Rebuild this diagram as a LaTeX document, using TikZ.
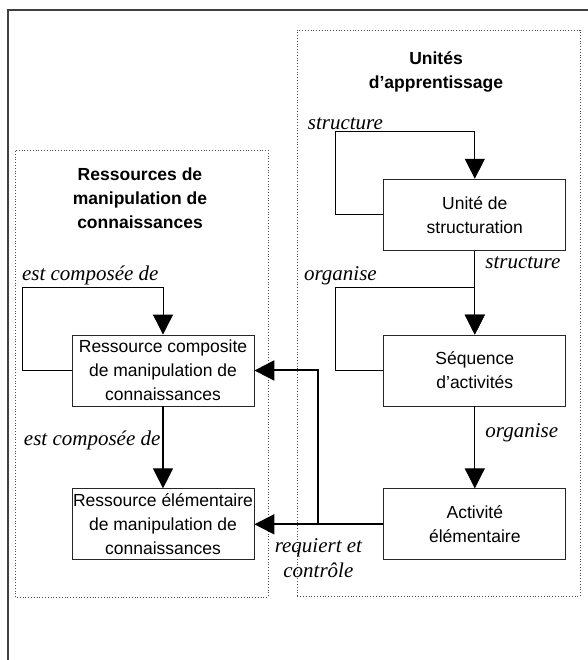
\documentclass[tikz,border=0pt]{standalone}
\usepackage{fontspec}
\setmainfont{Liberation Serif}
\newfontfamily\boxfont{Liberation Sans}
\usepackage{tikz}
\usetikzlibrary{arrows.meta, positioning}
\tikzstyle{resbox} = [rectangle, draw=black!85, line width=0.8pt, minimum width=182pt, minimum height=71pt, inner sep=1pt, align=center, font=\boxfont\fontsize{17.5}{24}\selectfont]
\tikzstyle{title} = [align=center, font=\boxfont\bfseries\fontsize{17.5}{24}\selectfont]
\tikzstyle{rel} = [inner sep=2pt, align=center, font=\itshape\fontsize{21}{25}\selectfont]
\tikzstyle{arrow} = [-{Triangle[length=20pt, width=20pt]}, line width=1.2pt]
\tikzstyle{loopline} = [-{Triangle[length=20pt, width=20pt]}, line width=0.9pt]
\tikzstyle{link} = [-{Triangle[length=20pt, width=20pt]}, line width=2pt]
\tikzstyle{group} = [draw=black!70, dotted, line width=0.8pt]

\begin{document}
\begin{tikzpicture}[x=1pt, y=1pt, node distance=82pt and 129pt]
\useasboundingbox (0,0) rectangle (587,660);

% outer frame and the two groups
\draw[line width=1.2pt, black!75] (8,-20) -- (8,650) -- (620,650);
\draw[group] (15,63) rectangle (268,510);
\draw[group] (297,64) rectangle (580,630);

% group titles
\node[title] (restitle) at (140,462) {Ressources de\\manipulation de\\connaissances};
\node[title] (unitstitle) at (436,588) {Unités\\d’apprentissage};

% boxes
\node[resbox] (comp) at (163,289.5) {Ressource composite\\de manipulation de\\connaissances};
\node[resbox, below=of comp] (elem) {Ressource élémentaire\\de manipulation de\\connaissances};
\node[resbox, right=of comp] (seq) {Séquence\\d’activités};
\node[resbox, above=84pt of seq] (unite) {Unité de\\structuration};
\node[resbox, below=of seq] (act) {Activité\\élémentaire};

% self loops
\draw[loopline] (unite.west) -- ++(-48,0) |- node[rel, above, xshift=10pt] {structure} ([yshift=47pt]unite.north) -- (unite.north);
\draw[loopline] (seq.west) -- ++(-48,0) |- node[rel, above, xshift=5pt] {organise} ([yshift=47pt]seq.north) -- (seq.north);
\draw[loopline] (comp.west) -- ++(-49,0) |- node[rel, above right, xshift=-3pt] {est composée de} ([yshift=47pt]comp.north) -- (comp.north);

% vertical arrows
\draw[arrow] (unite) -- node[rel, right, pos=0.15, xshift=8pt] {structure} (seq);
\draw[arrow] (seq) -- node[rel, right, pos=0.32, xshift=8pt] {organise} (act);
\draw[arrow] (comp) -- node[rel, left, pos=0.41] {est composée de} (elem);

% requiert et controle
\draw[link] (act.west) -- ++(-65,0) coordinate (split) |- (comp.east);
\draw[link] (split) -- (elem.east);
\node[rel, below=12pt of split] (reqlabel) {requiert et\\contrôle};

\end{tikzpicture}
\end{document}
